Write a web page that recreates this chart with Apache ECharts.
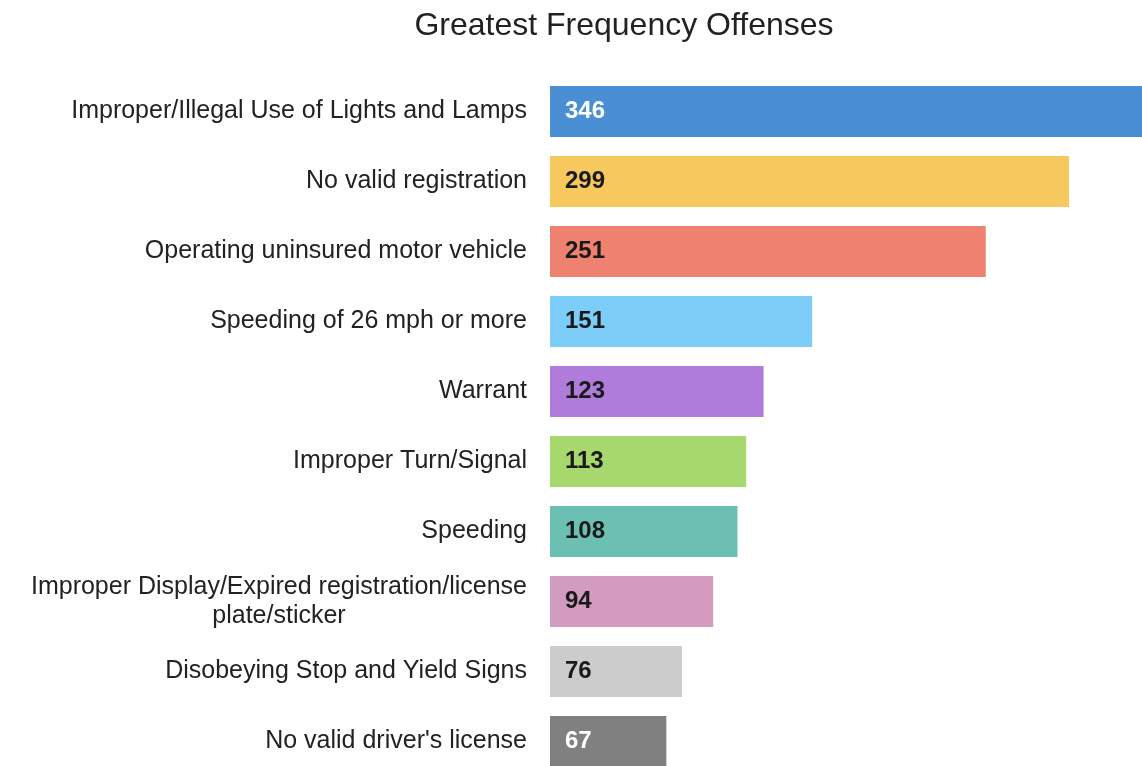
<!DOCTYPE html>
<html>
<head>
<meta charset="utf-8">
<script src="https://cdn.jsdelivr.net/npm/echarts@6/dist/echarts.min.js"></script>
<style>
  html, body { margin: 0; padding: 0; background: #ffffff; }
  #chart { width: 1142px; height: 766px; }
</style>
</head>
<body>
<div id="chart"></div>
<script>
// Offense categories, top to bottom
const categories = [
  "Improper/Illegal Use of Lights and Lamps",
  "No valid registration",
  "Operating uninsured motor vehicle",
  "Speeding of 26 mph or more",
  "Warrant",
  "Improper Turn/Signal",
  "Speeding",
  "Improper Display/Expired registration/license\nplate/sticker",
  "Disobeying Stop and Yield Signs",
  "No valid driver's license"
];

// Number of offenses per category
const counts = [346, 299, 251, 151, 123, 113, 108, 94, 76, 67];

// Bar fill and value-label colour per category
const barColors = ["#4a8fd4", "#f6c85e", "#ef8170", "#7dcdf9", "#b07cdb",
                   "#a7d86e", "#6cc0b3", "#d29bbf", "#cccccc", "#808080"];
const labelColors = ["#ffffff", "#1a1a1a", "#1a1a1a", "#1a1a1a", "#1a1a1a",
                     "#1a1a1a", "#1a1a1a", "#1a1a1a", "#1a1a1a", "#ffffff"];

const FONT = 'Liberation Sans, Arial, Helvetica, sans-serif';

const chart = echarts.init(document.getElementById('chart'), null, { renderer: 'canvas' });

chart.setOption({
  backgroundColor: '#ffffff',
  animation: false,
  title: {
    text: 'Greatest Frequency Offenses',
    left: 619,
    textAlign: 'center',
    top: 5,
    textStyle: { fontFamily: FONT, fontSize: 32, fontWeight: 'normal', color: '#222222' }
  },
  // the plot runs past the bottom and right edges of the canvas, so the
  // longest bar and the last row are cut off by the frame
  grid: {
    left: 550, top: 76.5, width: 600.7, height: 700,
    containLabel: false,
    outerBoundsMode: 'none'
  },
  xAxis: {
    type: 'value',
    min: 0,
    max: 346,
    show: false
  },
  yAxis: {
    type: 'category',
    data: categories,
    inverse: true,
    axisLine: { show: false },
    axisTick: { show: false },
    splitLine: { show: false },
    axisLabel: {
      margin: 23,
      align: 'right',
      fontFamily: FONT,
      fontSize: 25,
      lineHeight: 29,
      color: '#222222',
      // wrapped names are centred line by line under each other
      formatter: (name) => name.split('\n').map(s => '{c|' + s + '}').join('\n'),
      rich: {
        c: { align: 'center', fontFamily: FONT, fontSize: 25, lineHeight: 29, color: '#222222' }
      }
    }
  },
  series: [{
    type: 'bar',
    barCategoryGap: '27%',
    data: counts.map((v, i) => ({
      value: v,
      itemStyle: { color: barColors[i] },
      label: { color: labelColors[i] }
    })),
    label: {
      show: true,
      position: 'insideLeft',
      distance: 15,
      fontFamily: FONT,
      fontSize: 24,
      fontWeight: 'bold'
    }
  }]
});
</script>
</body>
</html>
